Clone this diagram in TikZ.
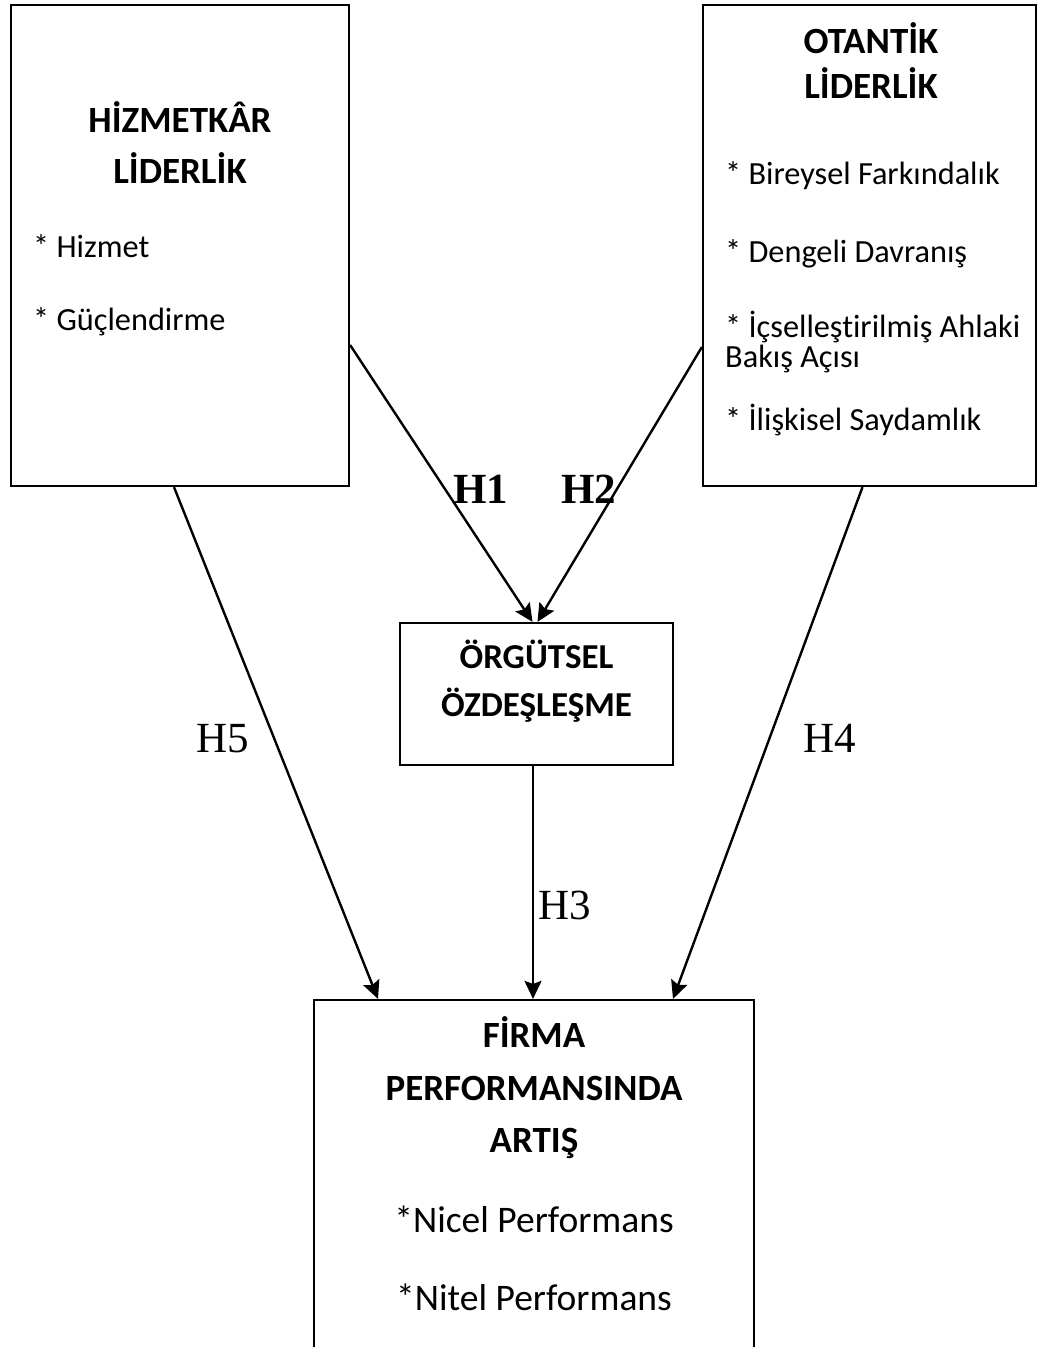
\documentclass[tikz,border=0pt]{standalone}
\usepackage{fontspec}
\setmainfont{Carlito}[Ligatures=NoCommon]
\newfontfamily\tnr{Liberation Serif}
\usetikzlibrary{arrows.meta}
\tikzset{
  box/.style={draw=black, line width=2.2pt, inner sep=0pt, fill=none},
  ttl/.style={inner sep=0pt, anchor=base, font=\fontsize{37}{40}\selectfont\bfseries},
  itm/.style={inner sep=0pt, anchor=base west, font=\fontsize{32.3}{36}\selectfont},
  itmc/.style={inner sep=0pt, anchor=base, font=\fontsize{37.5}{40}\selectfont},
  hb/.style={inner sep=0pt, anchor=base, font=\fontsize{43}{46}\selectfont\tnr\bfseries},
  hl/.style={inner sep=0pt, anchor=base, font=\fontsize{43}{46}\selectfont\tnr},
  con/.style={line width=2.4pt, -{Stealth[length=18pt,width=17pt,inset=3pt]}}
}
\begin{document}
\begin{tikzpicture}[x=1pt,y=-1pt]
\useasboundingbox (0,0) rectangle (1042,1347);
% boxes
\node[box, minimum width=338pt, minimum height=481pt] (L) at (180,245.5) {};
\node[box, minimum width=333pt, minimum height=481pt] (R) at (869.5,245.5) {};
\node[box, minimum width=273pt, minimum height=142pt] (M) at (536.5,694) {};
\node[box, minimum width=440pt, minimum height=352pt] (B) at (534,1176) {};
% left texts
\node[ttl] (l1) at (180,132) {HİZMETKÂR};
\node[ttl] (l2) at (180,183) {LİDERLİK};
\node[itm] (l3) at (33,257) {* Hizmet};
\node[itm] (l4) at (33,330) {* Güçlendirme};
% right texts
\node[ttl] (r1) at (871,53) {OTANTİK};
\node[ttl] (r2) at (871,98) {LİDERLİK};
\node[itm] (r3) at (725,184) {* Bireysel Farkındalık};
\node[itm] (r4) at (725,262) {* Dengeli Davranış};
\node[itm] (r5) at (725,337) {* İçselleştirilmiş Ahlaki};
\node[itm] (r6) at (725,367) {Bakış Açısı};
\node[itm] (r7) at (725,430) {* İlişkisel Saydamlık};
% middle texts
\node[ttl, font=\fontsize{35}{40}\selectfont\bfseries] (m1) at (536.5,668) {ÖRGÜTSEL};
\node[ttl, font=\fontsize{35}{40}\selectfont\bfseries] (m2) at (536.5,716) {ÖZDEŞLEŞME};
% bottom texts
\node[ttl] (b1) at (534,1047) {FİRMA};
\node[ttl] (b2) at (534,1100) {PERFORMANSINDA};
\node[ttl] (b3) at (534,1152) {ARTIŞ};
\node[itmc] (b4) at (534,1232) {*Nicel Performans};
\node[itmc] (b5) at (534,1310) {*Nitel Performans};
% connectors
\draw[con] ([yshift=-99.5pt]L.east) -- ([xshift=-4pt]M.north);
\draw[con] ([yshift=-101.5pt]R.west) -- ([xshift=1pt]M.north);
\draw[con] ([xshift=-6pt]L.south) -- ([xshift=-156pt]B.north);
\draw[con] ([xshift=-3.5pt]M.south) -- ([xshift=-1pt]B.north);
\draw[con] ([xshift=-7pt]R.south) -- ([xshift=139pt]B.north);
% labels
\node[hb] (h1) at (481,503) {H1};
\node[hb] (h2) at (589,503) {H2};
\node[hl] (h5) at (223,752) {H5};
\node[hl] (h4) at (830,752) {H4};
\node[hl] (h3) at (565,919) {H3};
\end{tikzpicture}
\end{document}
